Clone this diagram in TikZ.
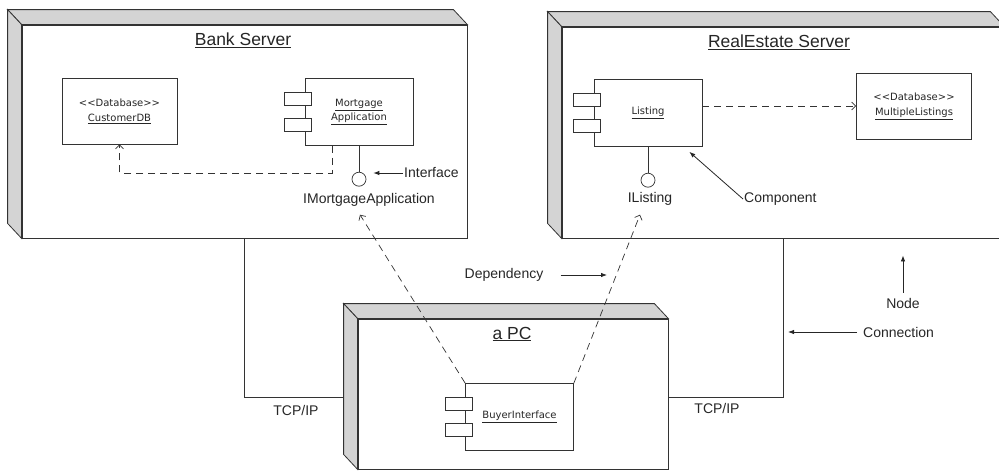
\documentclass[tikz,border=0pt]{standalone}
\usepackage{fontspec}
\setmainfont{Liberation Sans}
\newfontfamily\dejavu{DejaVu Sans}
\usetikzlibrary{arrows.meta,positioning,calc}

\begin{document}
\begin{tikzpicture}[
    x=1pt, y=-1pt,
    box/.style={draw=black!80, line width=0.7pt, fill=white, inner sep=0pt},
    devnode/.style={box, line width=0.8pt},
    face/.style={fill=black!17, draw=black!80, line width=0.8pt},
    comp/.style={
      box, minimum width=108pt, minimum height=67pt, align=center,
      font=\dejavu\fontsize{10}{14.5}\selectfont, text=black!85
    },
    dbase/.style={
      box, minimum width=115pt, minimum height=66pt, align=center,
      font=\dejavu\fontsize{10}{15}\selectfont, text=black!85
    },
    tabbox/.style={draw=black!80, line width=0.7pt, fill=white},
    iface/.style={circle, draw=black!80, line width=0.7pt, fill=white,
      minimum size=14pt, inner sep=0pt},
    title/.style={font=\fontsize{17.5}{21}\selectfont, text=black!85},
    lbl/.style={font=\fontsize{14}{16}\selectfont, text=black!85, inner sep=1pt},
    link/.style={draw=black!80, line width=0.8pt},
    dep/.style={draw=black!80, line width=0.7pt, dash pattern=on 7pt off 5pt,
      -{Straight Barb[length=4pt,width=8pt]}},
    pointer/.style={draw=black!85, line width=0.8pt, -{Latex[length=6pt,width=4.5pt]}}
  ]
  \useasboundingbox (0,0) rectangle (999,471);
  \clip (0,0) rectangle (999,471);

  % Device nodes (front faces)
  \node[devnode, minimum width=445pt, minimum height=213pt] (bank)   at (244.5,131.5) {};
  \node[devnode, minimum width=442pt, minimum height=211pt] (estate) at (783,132.5)   {};
  \node[devnode, minimum width=310pt, minimum height=150pt] (pc)     at (513,394)     {};

  % Connections
  \draw[link] (bank.south)   |- ([yshift=-3pt]pc.west);
  \draw[link] (estate.south) |- ([yshift=-3pt]pc.east);

  % 3D faces
  \foreach \n in {bank,estate,pc} {
    \filldraw[face] (\n.north west) -- ++(-14,-15) -- ($(\n.north east)+(-14,-15)$)
      -- (\n.north east) -- cycle;
    \filldraw[face] (\n.north west) -- ++(-14,-15) -- ($(\n.south west)+(-14,-15)$)
      -- (\n.south west) -- cycle;
  }

  % Node titles
  \node[title] (bankT)   at (243,40)  {\underline{Bank Server}};
  \node[title] (estateT) at (779,42)  {\underline{RealEstate Server}};
  \node[title] (pcT)     at (512,334) {\underline{a PC}};

  % Components
  \node[comp] (mortgage) at (359,112)   {\underline{Mortgage}\\\underline{Application}};
  \node[comp] (listing)  at (648,113)   {\underline{Listing}};
  \node[comp] (buyer)    at (519.5,417) {\underline{BuyerInterface}};
  \foreach \c in {mortgage,listing,buyer} {
    \filldraw[tabbox] ($(\c.west)+(-20,-19.5)$) rectangle ++(27,13);
    \filldraw[tabbox] ($(\c.west)+(-20,6.5)$)   rectangle ++(27,13);
  }

  % Databases
  \node[dbase] (customer) at (119.5,111)
    {\textless\textless Database\textgreater\textgreater\\\underline{CustomerDB}};
  \node[dbase] (multi) at (914,106)
    {\textless\textless Database\textgreater\textgreater\\\underline{MultipleListings}};

  % Interfaces
  \node[iface, below=26pt of mortgage] (mortI) {};
  \node[iface, below=26pt of listing]  (listI) {};
  \draw[link] (mortgage) -- (mortI);
  \draw[link] (listing)  -- (listI);
  \node[lbl] (mortL) at (369,200) {IMortgageApplication};
  \node[lbl] (listL) at (650,199) {IListing};

  % Dependencies
  \draw[dep] ([xshift=-27pt]mortgage.south) -- ++(0,27) -| (customer.south);
  \draw[dep] (listing.east |- multi.west) -- (multi.west);
  \draw[dep] (buyer.north west) -- ([xshift=-9pt,yshift=-7pt]mortL.south);
  \draw[dep] (buyer.north east) -- ([xshift=-10pt,yshift=-8pt]listL.south);

  % Annotations
  \node[lbl, anchor=west] (ifaceL) at (403,173) {Interface};
  \node[lbl, anchor=west] (compL)  at (743,199) {Component};
  \node[lbl]              (depL)   at (504,275) {Dependency};
  \node[lbl]              (nodeL)  at (903,303) {Node};
  \node[lbl, anchor=west] (connL)  at (862,332) {Connection};
  \node[lbl]              (tcpL)   at (296,410) {TCP/IP};
  \node[lbl]              (tcpR)   at (717,408) {TCP/IP};
  \coordinate (depTip) at (607,275);

  \draw[pointer, shorten >=7pt] (ifaceL.west) -- (ifaceL.west -| mortI.east);
  \draw[pointer] (compL.west) -- ([xshift=-13pt,yshift=-5pt]listing.south east);
  \draw[pointer, shorten <=16pt] (depL.east) -- (depTip);
  \draw[pointer, shorten <=4pt, shorten >=17pt] (nodeL.north) -- (nodeL.north |- estate.south);
  \draw[pointer, shorten <=5pt, shorten >=5pt] (connL.west) -- (connL.west -| estate.south);
\end{tikzpicture}
\end{document}
